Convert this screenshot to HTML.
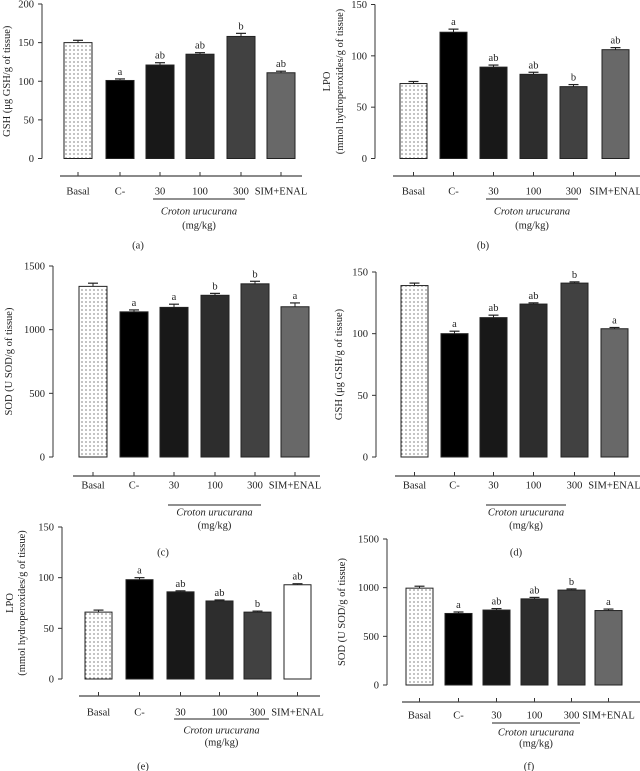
<!DOCTYPE html>
<html><head><meta charset="utf-8"><style>
html,body{margin:0;padding:0;background:#fff;}
svg{display:block;font-family:"Liberation Serif",serif;}
</style></head><body>
<svg id="fig" width="640" height="771" viewBox="0 0 640 771">
<defs><pattern id="dots" width="4" height="4" patternUnits="userSpaceOnUse"><rect width="4" height="4" fill="#fff"/><circle cx="2" cy="2" r="0.6" fill="#333"/></pattern></defs>
</svg>
<script>
const categories = ["Basal","C-","30","100","300","SIM+ENAL"];
const valuesA = [150,101,121,135,158,111];
const errorsA = [3,2,3,2,4,2];
const lettersA = ["","a","ab","ab","b","ab"];
const valuesB = [73,123,89,82,70,106];
const errorsB = [2,3,2,2,2,2];
const lettersB = ["","a","ab","ab","b","ab"];
const valuesC = [1340,1140,1175,1270,1360,1180];
const errorsC = [25,15,25,15,20,30];
const lettersC = ["","a","a","b","b","a"];
const valuesD = [139,100,113,124,141,104];
const errorsD = [2,2,2,1,1,1];
const lettersD = ["","a","ab","ab","b","a"];
const valuesE = [66,98,86,77,66,93];
const errorsE = [2,2,1,1,1,1];
const lettersE = ["","a","ab","ab","b","ab"];
const valuesF = [995,735,770,885,975,765];
const errorsF = [20,15,15,15,12,15];
const lettersF = ["","a","ab","ab","b","a"];
const ticksGSH1 = [0,50,100,150,200];
const ticksLPO = [0,50,100,150];
const ticksSOD = [0,500,1000,1500];
const ticksGSH2 = [0,50,100,150];

const svg = document.getElementById('fig');
const NS = 'http://www.w3.org/2000/svg';
function mk(tag, attrs, parent){const e=document.createElementNS(NS,tag);for(const k in attrs)e.setAttribute(k,attrs[k]);(parent||svg).appendChild(e);return e;}

const panels = [
 {id:'a',vals:valuesA,errs:errorsA,lets:lettersA,ticks:ticksGSH1,ax:42,yTop:4,yBot:158.5,bx:[64,106,146,186,227,267],bw:28,base:176,axL:60,axR:302,ul:[153,245],lab:138,title:["GSH (\u03bcg GSH/g of tissue)"],tx:[10],white:false,ly:[191,199,211,225,245]},
 {id:'b',vals:valuesB,errs:errorsB,lets:lettersB,ticks:ticksLPO,ax:375,yTop:4.5,yBot:158.5,bx:[400,440,480,520,560,602],bw:27,base:176,axL:393,axR:640,ul:[486,578],lab:483,title:["LPO","(mmol hydroperoxides/g of tissue)"],tx:[330,343],white:false,ly:[191,199,211,225,245]},
 {id:'c',vals:valuesC,errs:errorsC,lets:lettersC,ticks:ticksSOD,ax:53,yTop:266,yBot:457,bx:[79,120,160,201,241,281],bw:28,base:476,axL:73,axR:320,ul:[168,261],lab:163,title:["SOD (U SOD/g of tissue)"],tx:[12],white:false,ly:[485,505,512,525,552]},
 {id:'d',vals:valuesD,errs:errorsD,lets:lettersD,ticks:ticksGSH2,ax:376,yTop:272,yBot:457,bx:[401,441,480,520,561,601],bw:27,base:476,axL:395,axR:640,ul:[486,566],lab:516,title:["GSH (\u03bcg GSH/g of tissue)"],tx:[342],white:false,ly:[485,505,512,525,552]},
 {id:'e',vals:valuesE,errs:errorsE,lets:lettersE,ticks:ticksLPO,ax:62,yTop:527,yBot:679,bx:[85,126,167,206,244,284],bw:27,base:696,axL:79,axR:320,ul:[174,269],lab:143,title:["LPO","(mmol hydroperoxides/g of tissue)"],tx:[13,25],white:true,ly:[712,719,730,742,766]},
 {id:'f',vals:valuesF,errs:errorsF,lets:lettersF,ticks:ticksSOD,ax:387,yTop:539,yBot:685,bx:[406,445,483,521,558,595],bw:27,base:702,axL:402,axR:640,ul:[492,580],lab:529,title:["SOD (U SOD/g of tissue)"],tx:[345],white:false,ly:[715,723,732,743,766]}
];
const fills = ['url(#dots)','#000','#181818','#2d2d2d','#414141','#686868'];

panels.forEach(p=>{
  const g = mk('g',{});
  
  
  const maxT = p.ticks[p.ticks.length-1];
  const y = v => p.yBot - (v/maxT)*(p.yBot-p.yTop);
  const ya = mk('line',{x1:p.ax,x2:p.ax,y1:p.yTop,y2:p.yBot,stroke:'#333','stroke-width':1},g);
  
  
  p.ticks.forEach(t=>{
    mk('line',{x1:p.ax-4,x2:p.ax,y1:y(t),y2:y(t),stroke:'#333','stroke-width':1},g);
    const tl = mk('text',{x:p.ax-8,y:y(t)+3.5,'text-anchor':'end','font-size':10.5,fill:'#222'},g);
    tl.textContent = t;
    
    
  });
  const cy = (p.yTop+p.yBot)/2;
  p.title.forEach((s,i)=>{
    const tt = mk('text',{x:p.tx[i],y:cy,'text-anchor':'middle','font-size':10.5,fill:'#222',transform:`rotate(-90 ${p.tx[i]} ${cy})`},g);
    tt.textContent = s;
    
    
  });
  p.vals.forEach((v,i)=>{
    const x0 = p.bx[i], cx = x0 + p.bw/2;
    let f = fills[i];
    if(i===5 && p.white) f = '#fff';
    const top = y(v), et = y(v + p.errs[i]);
    mk('line',{x1:cx,x2:cx,y1:top,y2:et,stroke:'#222','stroke-width':1},g);
    mk('line',{x1:cx-5,x2:cx+5,y1:et,y2:et,stroke:'#222','stroke-width':1.2},g);
    const r = mk('rect',{x:x0,y:top,width:p.bw,height:p.yBot-top,fill:f,stroke:'#222','stroke-width':1},g);
    
    
    if(p.lets[i]){
      const lt = mk('text',{x:cx,y:et-4,'text-anchor':'middle','font-size':10.5,fill:'#222'},g);
      lt.textContent = p.lets[i];
      
      
    }
    mk('line',{x1:cx,x2:cx,y1:p.base-4,y2:p.base,stroke:'#333','stroke-width':1},g);
    const cl = mk('text',{x:cx,y:p.ly[0]+3.5,'text-anchor':'middle','font-size':10.5,fill:'#222'},g);
    cl.textContent = categories[i];
    
    
  });
  const xa = mk('line',{x1:p.axL,x2:p.axR,y1:p.base,y2:p.base,stroke:'#444','stroke-width':1.2},g);
  
  
  mk('line',{x1:p.ul[0],x2:p.ul[1],y1:p.ly[1],y2:p.ly[1],stroke:'#222','stroke-width':1},g);
  const mid = (p.ul[0]+p.ul[1])/2;
  const cr = mk('text',{x:mid,y:p.ly[2]+3.5,'text-anchor':'middle','font-size':10.5,'font-style':'italic',fill:'#222'},g);
  cr.textContent = 'Croton urucurana';
  
  
  const mg = mk('text',{x:mid,y:p.ly[3]+3.5,'text-anchor':'middle','font-size':10.5,fill:'#222'},g);
  mg.textContent = '(mg/kg)';
  
  
  const pl = mk('text',{x:p.lab,y:p.ly[4]+3.5,'text-anchor':'middle','font-size':10.5,fill:'#222'},g);
  pl.textContent = '('+p.id+')';
  
  
});
</script>
</body></html>
